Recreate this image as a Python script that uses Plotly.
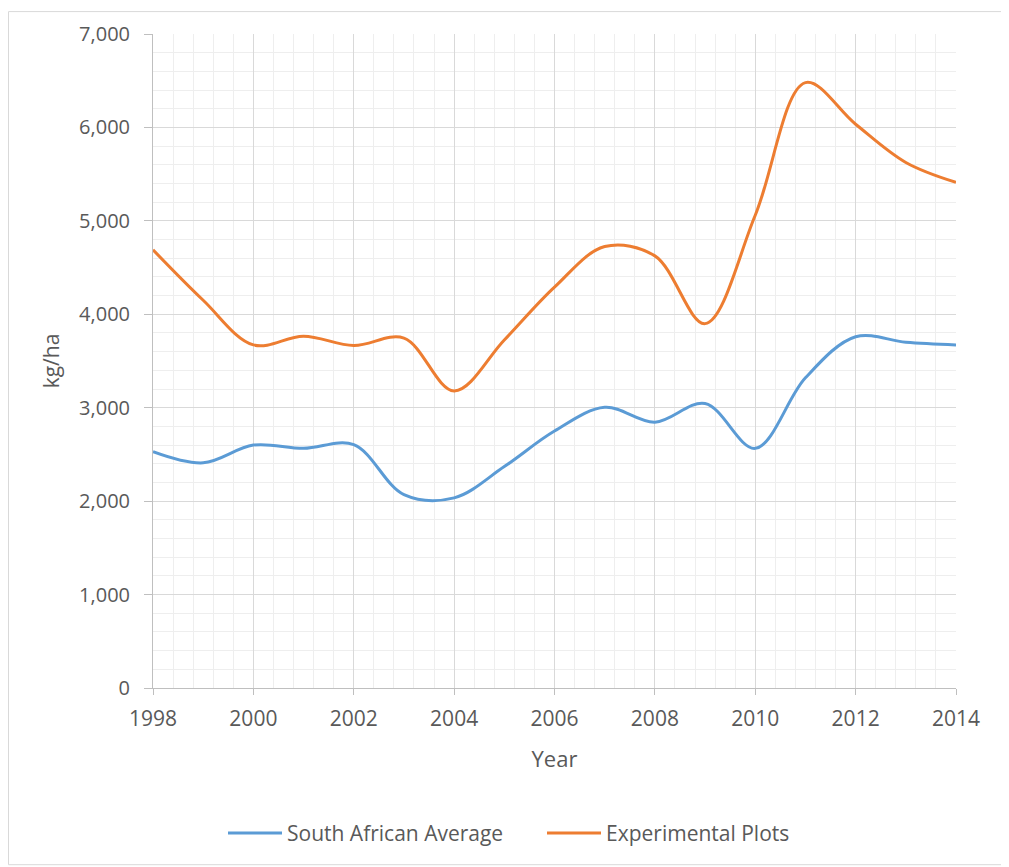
import plotly.graph_objects as go

years = list(range(1998, 2015))
sa_average = [2530, 2410, 2600, 2565, 2605, 2070, 2035, 2370, 2750, 3005, 2845, 3045, 2565, 3320, 3760, 3700, 3672]
experimental = [4690, 4150, 3672, 3765, 3665, 3745, 3180, 3725, 4290, 4725, 4625, 3900, 5060, 6480, 6034, 5625, 5412]

FONT = "Open Sans"
GRAY = "#595959"

fig = go.Figure()
fig.add_trace(go.Scatter(x=years, y=sa_average, name="South African Average", mode="lines",
                         line=dict(color="#5B9BD5", width=3, shape="spline", smoothing=1)))
fig.add_trace(go.Scatter(x=years, y=experimental, name="Experimental Plots", mode="lines",
                         line=dict(color="#ED7D31", width=3, shape="spline", smoothing=1)))

# page body has an 8px margin; compensate so the plot area lands at 153..956 x 31..688
OFF = 8
W, H = 1009 - OFF, 867 - OFF
L, T = 153 - OFF, 31 - OFF
pw, ph = 956 - 153, 688 - 31
R, B = W - L - pw, H - T - ph

fig.update_layout(
    width=W, height=H,
    margin=dict(l=L, r=R, t=T, b=B),
    paper_bgcolor="white", plot_bgcolor="white",
    font=dict(family=FONT, color=GRAY, size=20),
    showlegend=True,
    legend=dict(orientation="h", x=(542 - 153) / pw, xanchor="center",
                y=-(834 - 688) / ph, yanchor="middle",
                font=dict(size=21, color=GRAY, family=FONT), itemwidth=54,
                entrywidth=250, entrywidthmode="pixels"),
    xaxis=dict(
        range=[1998, 2014], tick0=1998, dtick=2, tickformat="d",
        showgrid=True, gridcolor="#D9D9D9", gridwidth=1,
        minor=dict(dtick=0.4, tick0=1998, showgrid=True, gridcolor="#EEEEEE", gridwidth=1, ticks=""),
        showline=True, linecolor="#BFBFBF", linewidth=1,
        ticks="outside", ticklen=6, tickcolor="#BFBFBF",
        ticklabelstandoff=6,
        tickfont=dict(size=21, color=GRAY, family=FONT),
        title=dict(text="Year", font=dict(size=22, color=GRAY, family=FONT), standoff=20),
        zeroline=False,
    ),
    yaxis=dict(
        range=[0, 7000], tick0=0, dtick=1000, tickformat=",d",
        showgrid=True, gridcolor="#D9D9D9", gridwidth=1,
        minor=dict(dtick=200, tick0=0, showgrid=True, gridcolor="#EEEEEE", gridwidth=1, ticks=""),
        showline=True, linecolor="#BFBFBF", linewidth=1,
        ticks="outside", ticklen=8, tickcolor="#BFBFBF",
        ticklabelstandoff=10,
        tickfont=dict(size=20, color=GRAY, family=FONT),
        title=dict(text="kg/ha", font=dict(size=21, color=GRAY, family=FONT), standoff=13),
        zeroline=False,
    ),
)

# outer chart border
fig.add_shape(type="rect", xref="paper", yref="paper",
              x0=(0.5 - L) / pw, x1=(W - 1.5 - L) / pw,
              y0=-(H - 1.5 - T - ph) / ph, y1=1 + (T - 0.5) / ph,
              line=dict(color="#D9D9D9", width=1), fillcolor="rgba(0,0,0,0)", layer="below")

fig.write_html("out.html")
